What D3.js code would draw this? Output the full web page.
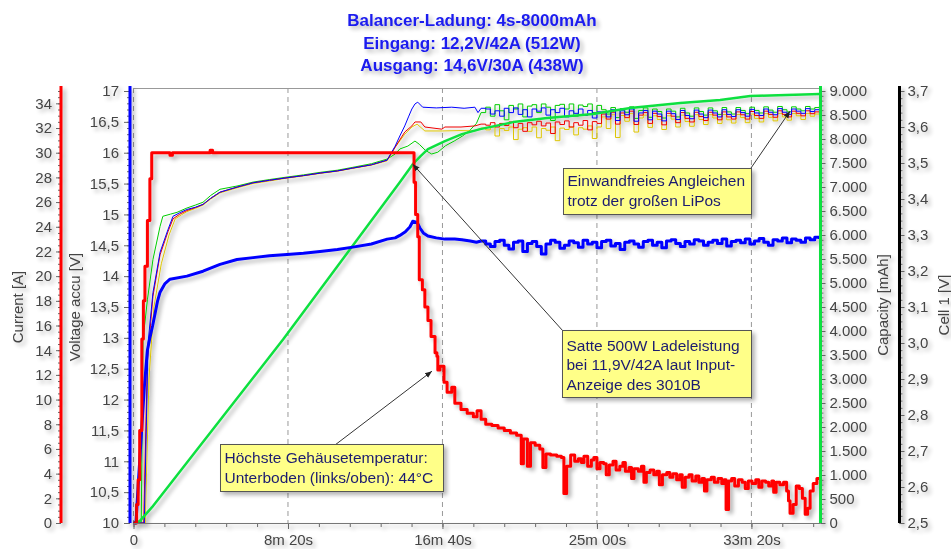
<!DOCTYPE html>
<html><head><meta charset="utf-8">
<script src="https://cdn.jsdelivr.net/npm/d3@7"></script>
<style>body{margin:0;background:#fff;}svg{display:block;font-family:Arial,"Liberation Sans",sans-serif;}</style>
</head><body>
<svg id="c" width="951" height="549"></svg>
<script>
// ---------- DATA ----------
const titleLines = ["Balancer-Ladung: 4s-8000mAh", "Eingang: 12,2V/42A (512W)", "Ausgang: 14,6V/30A (438W)"];
const timeTicks = [0, 500, 1000, 1500, 2000];
const timeTickLabels = ["0", "8m 20s", "16m 40s", "25m 00s", "33m 20s"];
const currentTicks = [0,2,4,6,8,10,12,14,16,18,20,22,24,26,28,30,32,34];
const voltageTicks = [10,10.5,11,11.5,12,12.5,13,13.5,14,14.5,15,15.5,16,16.5,17];
const capacityTicks = [0,500,1000,1500,2000,2500,3000,3500,4000,4500,5000,5500,6000,6500,7000,7500,8000,8500,9000];
const cellTicks = [2.5,2.6,2.7,2.8,2.9,3.0,3.1,3.2,3.3,3.4,3.5,3.6,3.7];
const axisTitles = ["Current [A]", "Voltage accu [V]", "Capacity [mAh]", "Cell 1 [V]"];
const note1 = ["Einwandfreies Angleichen", "trotz der großen LiPos"];
const note2 = ["Satte 500W Ladeleistung", "bei 11,9V/42A laut Input-", "Anzeige des 3010B"];
const note3 = ["Höchste Gehäusetemperatur:", "Unterboden (links/oben): 44°C"];

// time [s], current [A]
const currentData = [[0,0],[5,0],[10,1.5],[15,3.5],[20,7.5],[27,14.9],[32,18],[37,20.8],[45,24.5],[53,27.9],[59,30],[115,30],[118,29.8],[126,30],[245,30],[248,30.2],[256,30],[904,30],[908,27.6],[913,25.0],[920,23.2],[925,19.7],[935,18.9],[943,17.5],[953,16.4],[963,15.1],[976,13.8],[982,13.5],[985,12.4],[992,12.7],[1005,11.4],[1015,10.6],[1030,11.0],[1040,9.7],[1060,9.2],[1080,8.9],[1100,8.6],[1112,9.1],[1125,8.4],[1140,8.0],[1160,7.9],[1180,7.7],[1200,7.5],[1220,7.3],[1240,7.1],[1255,4.8],[1262,6.8],[1275,4.6],[1285,6.5],[1300,6.3],[1315,6.0],[1325,4.5],[1335,5.6],[1350,5.5],[1370,5.4],[1385,5.3],[1393,2.4],[1402,4.6],[1415,5.5],[1428,5.0],
 [1440,5.2],[1450,4.9],[1458,5.4],[1470,4.6],[1482,5.1],[1490,5.3],[1500,4.4],[1510,4.9],[1522,4.8],[1530,3.9],[1540,4.7],[1552,5.0],[1562,4.3],[1574,4.6],[1584,4.9],[1592,4.2],[1604,4.5],[1612,3.6],[1620,4.4],[1634,4.2],[1644,4.6],[1652,3.3],[1660,4.1],[1672,4.3],[1684,3.9],[1694,4.2],[1702,3.1],[1712,3.9],[1726,4.1],[1736,3.7],[1746,4.0],[1758,3.5],[1768,3.9],[1776,2.9],[1786,3.7],[1798,3.9],[1808,3.4],[1820,3.8],[1830,3.3],[1840,3.6],[1848,2.6],[1856,3.5],[1870,3.7],[1880,3.3],[1892,3.6],[1904,3.2],[1912,3.5],[1918,1.1],[1926,3.4],[1936,3.6],[1946,3.0],[1958,3.5],[1970,3.3],[1980,2.8],[1990,3.4],[2002,3.2],[2014,3.5],[2024,2.9],[2034,3.4],[2046,3.3],[2056,3.0],[2066,3.4],[2072,2.5],[2080,3.3],[2092,3.1],[2104,3.3],[2114,2.6],[2120,1.8],[2125,0.8],[2135,1.5],[2145,3.0],[2155,2.8],[2165,2.0],[2174,0.7],[2182,1.2],[2190,2.6],[2200,3.2],[2212,3.6],[2222,3.7]];

// time [s], capacity [mAh]
const capacityData = [[0,0],[20,40],[60,330],[484,3821],[862,7100],[904,7476],[930,7650],[953,7789],[1008,7956],[1063,8102],[1122,8206],[1229,8352],[1339,8436],[1488,8520],[1608,8645],[1770,8749],[1899,8812],[1996,8896],[2222,8937]];

// time [s], accu voltage [V] (smooth part)
const voltageEarly = [[0,10],[8,10],[15,10.6],[25,11.4],[35,12.2],[45,12.8],[53,13.0],[62,13.2],[70,13.4],[78,13.6],[86,13.74],[102,13.88],[118,13.95],[173,14.0],[225,14.08],[280,14.19],[335,14.27],[387,14.30],[440,14.33],[497,14.35],[550,14.37],[604,14.40],[660,14.43],[710,14.47],[770,14.52],[821,14.6],[847,14.62],[862,14.66],[880,14.72],[895,14.80],[904,14.89],[918,14.87],[927,14.78],[938,14.70],[953,14.65],[980,14.62],[1008,14.60],[1040,14.60],[1063,14.59],[1090,14.57],[1110,14.55]];

// sample times of the noisy part [s]
const noiseTimes = [1125,1140,1155,1170,1185,1200,1215,1230,1245,1260,1275,1290,1305,1320,1335,1350,1365,1380,1395,1410,1425,1440,1455,1470,1485,1500,
 1515,1530,1545,1560,1575,1590,1605,1620,1635,1650,1665,1680,1695,1710,1725,1740,1755,1770,1785,1800,1815,1830,1845,1860,1875,1890,1905,1920,1935,1950,1965,1980,1995,2010,2025,2040,2055,2070,2085,2100,2115,2130,2145,2160,2175,2190,2205,2220];

const voltageNoise = [14.57,14.52,14.48,14.56,14.58,14.50,14.44,14.55,14.57,14.40,14.53,14.56,14.48,14.36,14.52,14.58,14.55,14.45,14.50,14.57,14.54,14.47,14.58,14.52,14.55,14.46,
 14.56,14.58,14.49,14.53,14.43,14.55,14.57,14.52,14.47,14.56,14.58,14.50,14.55,14.46,14.57,14.59,14.53,14.48,14.56,14.52,14.59,14.57,14.50,14.55,14.58,14.53,14.60,14.49,14.56,14.58,14.54,14.60,14.52,14.57,14.61,14.55,14.50,14.59,14.57,14.62,14.54,14.60,14.58,14.55,14.62,14.59,14.63,14.60];

// cell voltages [V]
const cellBlueEarly = [[0,2.5],[35,2.5],[47,3.0],[63,3.14],[86,3.252],[112,3.316],[128,3.352],[150,3.362],[173,3.371],[200,3.377],[225,3.385],[250,3.402],[280,3.419],[335,3.433],[387,3.445],[440,3.452],[497,3.459],[550,3.465],[604,3.472],[660,3.478],[710,3.486],[770,3.495],[821,3.508],[847,3.547],[862,3.575],[878,3.603],[890,3.628],[901,3.650],[911,3.664],[920,3.669],[936,3.655],[980,3.653],[1030,3.655],[1070,3.652],[1105,3.655],[1115,3.640]];
const cellRedEarly = [[0,2.5],[33,2.5],[45,2.95],[63,3.13],[86,3.245],[112,3.31],[128,3.345],[150,3.358],[173,3.368],[200,3.376],[225,3.385],[250,3.402],[280,3.419],[335,3.433],[387,3.445],[440,3.452],[497,3.459],[550,3.465],[604,3.472],[660,3.478],[710,3.486],[770,3.495],[821,3.508],[847,3.544],[878,3.586],[901,3.603],[911,3.614],[930,3.614],[943,3.600],[998,3.594],[1008,3.600],[1060,3.600],[1105,3.603]];
const cellYellowEarly = [[0,2.5],[38,2.5],[50,2.9],[66,3.10],[90,3.22],[115,3.30],[135,3.345],[155,3.356],[173,3.365],[200,3.374],[225,3.383],[250,3.400],[280,3.417],[335,3.431],[387,3.443],[440,3.450],[497,3.458],[550,3.464],[604,3.471],[660,3.477],[710,3.485],[770,3.494],[821,3.506],[847,3.544],[878,3.580],[901,3.600],[918,3.608],[943,3.589],[1000,3.589],[1060,3.590],[1105,3.589]];
const cellGreenEarly = [[0,2.5],[25,2.5],[31,3.01],[45,3.12],[63,3.232],[86,3.324],[95,3.352],[120,3.358],[141,3.363],[173,3.375],[200,3.383],[225,3.391],[250,3.410],[280,3.427],[335,3.436],[387,3.447],[440,3.454],[497,3.461],[550,3.467],[604,3.474],[660,3.480],[710,3.488],[770,3.498],[821,3.511],[847,3.525],[862,3.539],[888,3.547],[911,3.561],[925,3.552],[945,3.535],[965,3.525],[985,3.530],[1010,3.548],[1040,3.562],[1065,3.575],[1090,3.592],[1110,3.610]];

const cellBlueNoise = [3.652,3.650,3.636,3.645,3.630,3.652,3.640,3.653,3.635,3.648,3.628,3.650,3.644,3.653,3.633,3.648,3.640,3.652,3.628,3.645,3.638,3.650,3.632,3.646,3.625,3.642,
 3.642,3.628,3.648,3.618,3.645,3.634,3.650,3.616,3.639,3.646,3.620,3.644,3.636,3.617,3.644,3.637,3.621,3.646,3.632,3.623,3.647,3.636,3.626,3.647,3.639,3.628,3.648,3.635,3.629,3.648,3.640,3.630,3.649,3.639,3.632,3.650,3.641,3.634,3.651,3.641,3.635,3.650,3.644,3.638,3.651,3.643,3.648,3.652];
const cellRedNoise = [3.608,3.605,3.612,3.600,3.610,3.604,3.614,3.598,3.610,3.588,3.612,3.606,3.616,3.603,3.611,3.582,3.614,3.607,3.617,3.600,3.612,3.605,3.618,3.592,3.615,3.610,
 3.636,3.622,3.641,3.608,3.639,3.626,3.644,3.607,3.633,3.640,3.610,3.638,3.629,3.606,3.638,3.630,3.612,3.640,3.624,3.614,3.641,3.629,3.618,3.641,3.633,3.620,3.642,3.628,3.622,3.642,3.634,3.622,3.643,3.632,3.624,3.644,3.635,3.627,3.645,3.635,3.628,3.644,3.638,3.631,3.645,3.637,3.642,3.646];
const cellYellowNoise = [3.597,3.592,3.600,3.575,3.596,3.590,3.600,3.565,3.594,3.598,3.588,3.600,3.570,3.596,3.591,3.600,3.562,3.597,3.593,3.600,3.578,3.598,3.594,3.603,3.568,3.600,
 3.628,3.596,3.634,3.571,3.632,3.616,3.637,3.586,3.625,3.633,3.599,3.631,3.621,3.593,3.631,3.622,3.600,3.633,3.615,3.602,3.634,3.621,3.607,3.634,3.625,3.610,3.635,3.620,3.611,3.635,3.626,3.612,3.636,3.624,3.614,3.637,3.627,3.617,3.638,3.628,3.619,3.637,3.631,3.621,3.638,3.630,3.636,3.640];
const cellGreenNoise = [3.640,3.655,3.630,3.662,3.645,3.620,3.660,3.650,3.664,3.628,3.658,3.662,3.640,3.664,3.655,3.618,3.660,3.663,3.650,3.664,3.630,3.661,3.657,3.664,3.640,3.660,
 3.648,3.636,3.654,3.626,3.651,3.641,3.656,3.624,3.646,3.653,3.627,3.650,3.643,3.625,3.650,3.644,3.628,3.652,3.639,3.630,3.653,3.643,3.633,3.653,3.645,3.635,3.654,3.642,3.636,3.654,3.646,3.637,3.655,3.646,3.639,3.656,3.647,3.641,3.657,3.648,3.642,3.656,3.650,3.645,3.657,3.650,3.654,3.658];

// ---------- DRAW ----------
const W = 951, H = 549;
const L = 133.5, R = 820, T = 91, B = 523;
const svg = d3.select("#c");
const defs = svg.append("defs");
const f = defs.append("filter").attr("id","sh").attr("filterUnits","userSpaceOnUse")
  .attr("x",0).attr("y",0).attr("width",W).attr("height",H);
f.append("feGaussianBlur").attr("in","SourceAlpha").attr("stdDeviation",2).attr("result","b");
f.append("feOffset").attr("in","b").attr("dx",3).attr("dy",3).attr("result","o");
f.append("feComponentTransfer").attr("in","o").attr("result","o2")
  .append("feFuncA").attr("type","linear").attr("slope",0.3);
const fm = f.append("feMerge");
fm.append("feMergeNode").attr("in","o2");
fm.append("feMergeNode").attr("in","SourceGraphic");
defs.append("marker").attr("id","ah").attr("viewBox","0 0 10 10").attr("refX",10).attr("refY",5)
  .attr("markerWidth",7).attr("markerHeight",7).attr("orient","auto-start-reverse")
  .append("path").attr("d","M0,1 L10,5 L0,9 Z").attr("fill","#222");

const x = d3.scaleLinear().domain([0,2222]).range([L,R]);
const yCur = d3.scaleLinear().domain([0,35]).range([B,T]);
const yVolt = d3.scaleLinear().domain([10,17]).range([B,T]);
const yCap = d3.scaleLinear().domain([0,9000]).range([B,T]);
const yCell = d3.scaleLinear().domain([2.5,3.7]).range([B,T]);

// grid
const grid = svg.append("g");
grid.selectAll("line.v").data(timeTicks).join("line")
  .attr("x1",d=>x(d)).attr("x2",d=>x(d)).attr("y1",88).attr("y2",B)
  .attr("stroke","#999").attr("stroke-dasharray","5,4").attr("stroke-width",1);
grid.append("line").attr("x1",L).attr("x2",R).attr("y1",88.5).attr("y2",88.5).attr("stroke","#999");

const plot = svg.append("g").attr("filter","url(#sh)");
function drawLine(g, data, ys, color, w, curve){
  g.append("path").datum(data).attr("fill","none").attr("stroke",color).attr("stroke-width",w)
    .attr("stroke-linejoin","round")
    .attr("d", d3.line().x(d=>x(d[0])).y(d=>ys(d[1])).curve(curve));
}
function drawSeries(early, noise, ys, color, w){
  const g = plot.append("g");
  const noisy = noiseTimes.map((t,i)=>[t, noise[i]]);
  drawLine(g, early.concat([noisy[0]]), ys, color, w, d3.curveLinear);
  drawLine(g, noisy, ys, color, w, d3.curveStepAfter);
}
drawSeries(cellGreenEarly, cellGreenNoise, yCell, "#00cc00", 1);
drawSeries(cellYellowEarly, cellYellowNoise, yCell, "#dcc400", 1);
drawSeries(cellRedEarly, cellRedNoise, yCell, "#ee0000", 1);
drawSeries(cellBlueEarly, cellBlueNoise, yCell, "#0000ff", 1);
drawLine(plot, capacityData, yCap, "#11e040", 2.5, d3.curveLinear);
drawSeries(voltageEarly, voltageNoise, yVolt, "#0000ff", 3);
drawLine(plot, currentData, yCur, "#ff0000", 3, d3.curveStepAfter);

// axes
const tickText = "#444";
function styleAxis(g){
  g.select(".domain").remove();
  g.selectAll(".tick line").attr("stroke","#666");
  g.selectAll(".tick text").attr("fill",tickText).style("font-size","15px").style("font-family","Arial, 'Liberation Sans', sans-serif");
}
const axes = svg.append("g").attr("filter","url(#sh)");
const comma1 = d => (Math.abs(d - Math.round(d)) < 1e-9 ? String(Math.round(d)) : d.toFixed(1).replace(".", ","));
const capFmt = d3.formatLocale({decimal:",", thousands:".", grouping:[3], currency:["",""]}).format(",");

function vAxis(xpos, scale, ticks, minorStep, side, fmt, color, size, pad){
  const gen = side === "left" ? d3.axisLeft : d3.axisRight;
  const dom = scale.domain();
  const minors = d3.range(Math.round((dom[1]-dom[0])/minorStep)+1).map(i => dom[0] + i*minorStep);
  const gm = axes.append("g").attr("transform",`translate(${xpos},0)`)
    .call(gen(scale).tickValues(minors).tickSize(3).tickFormat(""));
  styleAxis(gm);
  const g = axes.append("g").attr("transform",`translate(${xpos},0)`)
    .call(gen(scale).tickValues(ticks).tickSize(size).tickPadding(pad).tickFormat(fmt));
  styleAxis(g);
  axes.append("line").attr("x1",xpos).attr("x2",xpos).attr("y1",86).attr("y2",B)
    .attr("stroke",color).attr("stroke-width",3);
}
vAxis(61, yCur, currentTicks, 0.5, "left", d=>d, "#ff0000", 5, 4);
vAxis(130, yVolt, voltageTicks, 0.1, "left", comma1, "#0000ff", 6, 5);
vAxis(820.5, yCap, capacityTicks, 100, "right", capFmt, "#11e040", 5, 4);
vAxis(899.5, yCell, cellTicks, 0.02, "right", d=>d.toFixed(1).replace(".", ","), "#000", 5, 3);

// x axis
const xm = axes.append("g").attr("transform",`translate(0,${B})`)
  .call(d3.axisBottom(x).tickValues(d3.range(0,2201,100)).tickSize(4).tickFormat(""));
styleAxis(xm);
const xa = axes.append("g").attr("transform",`translate(0,${B})`)
  .call(d3.axisBottom(x).tickValues(timeTicks).tickSize(6).tickPadding(5).tickFormat((d,i)=>timeTickLabels[i]));
styleAxis(xa);
axes.append("line").attr("x1",L).attr("x2",R).attr("y1",B+0.5).attr("y2",B+0.5).attr("stroke","#777");

// axis titles
const titlePos = [[17.5,307],[75,307],[883,305],[944,305]];
axisTitles.forEach((t,i)=>{
  axes.append("text").attr("transform",`translate(${titlePos[i][0]},${titlePos[i][1]}) rotate(-90)`)
    .attr("text-anchor","middle").attr("dy","0.35em").attr("fill","#444").style("font-size","15px").text(t);
});

// annotations
const ann = svg.append("g");
function arrow(x1,y1,x2,y2){
  ann.append("line").attr("x1",x1).attr("y1",y1).attr("x2",x2).attr("y2",y2)
    .attr("stroke","#333").attr("stroke-width",1).attr("marker-end","url(#ah)");
}
arrow(751, 168, x(2125), yCell(3.644));
arrow(563, 331, x(904), yCap(7476));
arrow(335, 445, x(966), yCur(12.3));
function box(bx,by,bw,bh,lines,base,gap){
  const g = ann.append("g");
  g.append("rect").attr("x",bx).attr("y",by).attr("width",bw).attr("height",bh)
    .attr("fill","#ffff88").attr("stroke","#555").attr("stroke-width",1).attr("filter","url(#sh)");
  lines.forEach((l,i)=>g.append("text").attr("x",bx+4).attr("y",base+i*gap)
    .attr("fill","#1c1c70").style("font-size","15.5px").text(l));
}
box(563.5,168.5,188,46,note1,186,19.5);
box(562.5,330.5,189,67,note2,351,19.3);
box(220.5,444.5,223,47,note3,463,20);

// title
const tg = svg.append("g").attr("filter","url(#sh)");
titleLines.forEach((t,i)=>{
  tg.append("text").attr("x",472).attr("y",26+i*22.5).attr("text-anchor","middle")
    .attr("fill","#1a1aee").style("font-size","17px").style("font-weight","bold").text(t);
});
</script>
</body></html>
